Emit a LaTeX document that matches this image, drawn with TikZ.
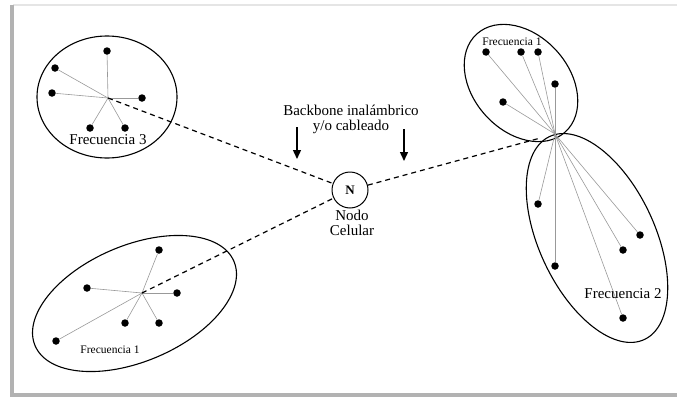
\documentclass[tikz,border=0pt]{standalone}
\usepackage{fontspec}
\setmainfont{Liberation Serif}
\usetikzlibrary{arrows.meta}
\usetikzlibrary{shapes.geometric}

\begin{document}
\begin{tikzpicture}[
        x=1pt, y=-1pt,
        cell/.style={draw, ellipse, line width=1.1pt, inner sep=0pt},
        dot/.style={circle, fill=black, inner sep=0pt, minimum size=7.5pt},
        ray/.style={gray!80, line width=0.6pt},
        link/.style={line width=1.2pt, dash pattern=on 5pt off 4pt},
        drop/.style={-{Triangle[length=9pt,width=8pt]}, line width=1.4pt},
        big/.style={font=\fontsize{15}{15}\selectfont},
        small/.style={font=\fontsize{11.5}{12}\selectfont} ]
    \useasboundingbox (0,0) rectangle (677,399);
    % frame
    \draw[gray!20, line width=2pt] (13,5) -- (677,5);
    \draw[gray!60, line width=3.5pt] (12,5) -- (12,395) -- (677,395);

    % cells
    \node[cell, minimum width=140pt, minimum height=122pt] (c3) at (107,97) {};
    \node[cell, minimum width=216pt, minimum height=116pt, rotate=23] (c1) at (134.5,303.5) {};
    \node[cell, minimum width=132pt, minimum height=96pt, rotate=-48] (c1b) at (521,83) {};
    \node[cell, minimum width=224pt, minimum height=116pt, rotate=-65] (c2) at (597,238) {};

    % hubs
    \coordinate (h3) at (108,98);
    \coordinate (h1) at (142,293);
    \coordinate (h2) at (555,134);

    % terminals
    \foreach \x/\y [count=\i] in {107/51, 55/68, 52/93, 142/98, 90/128, 125/128} {
        \node[dot] (t3-\i) at (\x,\y) {};
        \draw[ray] (h3) -- (t3-\i);
    }
    \foreach \x/\y [count=\i] in {159/250, 87/288, 177/293, 125/323, 159/323, 56/341} {
        \node[dot] (t1-\i) at (\x,\y) {};
        \draw[ray] (h1) -- (t1-\i);
    }
    \foreach \x/\y [count=\i] in {486/52, 521/52, 538/52, 555/84, 503/102} {
        \node[dot] (tb-\i) at (\x,\y) {};
        \draw[ray] (h2) -- (tb-\i);
    }
    \foreach \x/\y [count=\i] in {538/204, 555/266, 640/235, 623/250, 623/318} {
        \node[dot] (t2-\i) at (\x,\y) {};
        \draw[ray] (h2) -- (t2-\i);
    }

    % labels
    \node[big] (l3) at (108,140) {Frecuencia 3};
    \node[small] (l1) at (110,350) {Frecuencia 1};
    \node[small] (lb) at (512,42) {Frecuencia 1};
    \node[big] (l2) at (623,294) {Frecuencia 2};

    % cellular node
    \node[draw, circle, line width=1pt, minimum size=36pt, inner sep=0pt,
          font=\fontsize{13}{13}\selectfont\bfseries] (nc) at (350,190) {N};
    \node[big, align=center] (ncl) at (352,223) {Nodo\\Celular};

    % backbone
    \draw[link] (h3) -- (nc);
    \draw[link] (h1) -- (nc);
    \draw[link, shorten >=15pt] (nc) -- (h2);
    \node[big, align=center] (bb) at (351,119) {Backbone inalámbrico\\y/o cableado};
    \coordinate (al) at (297,127);
    \coordinate (ar) at (404,129);
    \draw[drop] (al) -- ++(0,32);
    \draw[drop] (ar) -- ++(0,32);
\end{tikzpicture}
\end{document}
